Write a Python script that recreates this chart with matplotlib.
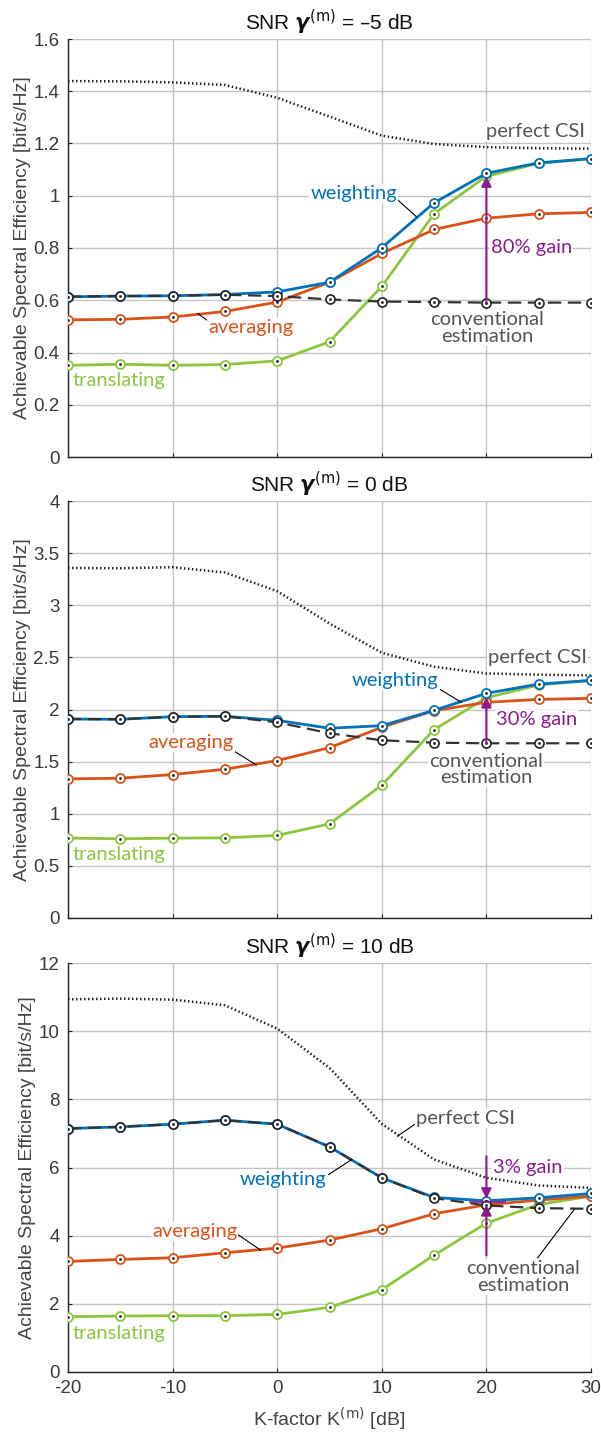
import numpy as np
import matplotlib
matplotlib.use('Agg')
import matplotlib.pyplot as plt

# K-factor [dB]
k_db = [-20, -15, -10, -5, 0, 5, 10, 15, 20, 25, 30]

# SNR = -5 dB
w_m5 = [0.613, 0.616, 0.617, 0.622, 0.632, 0.669, 0.801, 0.973, 1.086, 1.126, 1.142]
a_m5 = [0.525, 0.527, 0.536, 0.557, 0.593, 0.669, 0.779, 0.871, 0.914, 0.931, 0.936]
t_m5 = [0.351, 0.355, 0.351, 0.354, 0.368, 0.441, 0.653, 0.931, 1.075, 1.124, 1.142]
c_m5 = [0.614, 0.616, 0.617, 0.621, 0.616, 0.603, 0.595, 0.593, 0.591, 0.591, 0.591]
p_m5 = [1.439, 1.438, 1.434, 1.424, 1.375, 1.303, 1.230, 1.198, 1.186, 1.182, 1.180]

# SNR = 0 dB
w_0 = [1.909, 1.906, 1.931, 1.935, 1.896, 1.820, 1.845, 1.992, 2.155, 2.244, 2.279]
a_0 = [1.334, 1.341, 1.376, 1.427, 1.510, 1.634, 1.829, 1.989, 2.069, 2.097, 2.107]
t_0 = [0.766, 0.760, 0.766, 0.769, 0.792, 0.903, 1.274, 1.807, 2.113, 2.235, 2.279]
c_0 = [1.909, 1.906, 1.931, 1.935, 1.877, 1.772, 1.705, 1.682, 1.676, 1.676, 1.676]
p_0 = [3.358, 3.355, 3.365, 3.314, 3.135, 2.825, 2.544, 2.410, 2.346, 2.334, 2.327]

# SNR = 10 dB
w_10 = [7.144, 7.192, 7.271, 7.388, 7.271, 6.606, 5.697, 5.121, 5.023, 5.111, 5.238]
a_10 = [3.244, 3.303, 3.352, 3.498, 3.635, 3.870, 4.202, 4.642, 4.906, 5.043, 5.160]
t_10 = [1.622, 1.642, 1.652, 1.652, 1.691, 1.896, 2.414, 3.430, 4.368, 4.915, 5.160]
c_10 = [7.144, 7.192, 7.271, 7.388, 7.271, 6.606, 5.697, 5.101, 4.886, 4.808, 4.788]
p_10 = [10.935, 10.955, 10.925, 10.760, 10.075, 8.922, 7.280, 6.235, 5.697, 5.472, 5.404]

snr_titles = ['\u20135', '0', '10']
gains = ['80% gain', '30% gain', '3% gain']

BLUE = '#0072BD'
ORANGE = '#D95319'
GREEN = '#8CC63F'
PURPLE = '#8B1C8B'
GRAYTXT = '#555555'
ANN_FONT = ['Lato', 'DejaVu Sans']
AX_FONT = ['Liberation Sans', 'DejaVu Sans']

plt.rcParams['mathtext.fontset'] = 'dejavusans'
plt.rcParams['axes.unicode_minus'] = False

fig = plt.figure(figsize=(6.01, 14.37), dpi=100)
left, width = 68 / 601, (591 - 68) / 601
H = 1437
boxes = [(39, 457), (501, 918), (963, 1372)]


def series(ax, y, color, z, ls='-', lw=2.0):
    ax.plot(k_db, y, ls, color=color, lw=lw, marker='o', ms=6.5, mfc='white',
            mec=color, mew=1.3, zorder=z)
    ax.plot(k_db, y, ls='none', marker='.', ms=2, color='#222222', zorder=z + 0.1)


def label(ax, x, y, s, color, ha='center', va='center'):
    ax.text(x, y, s, color=color, fontsize=14.5, family=ANN_FONT, ha=ha, va=va,
            linespacing=0.95, zorder=8,
            bbox=dict(boxstyle='square,pad=0.05', fc='white', ec='none'))


def leader(ax, x0, y0, x1, y1):
    ax.plot([x0, x1], [y0, y1], color='black', lw=0.8, zorder=7)


axes = []
for i, (top, bot) in enumerate(boxes):
    ax = fig.add_axes([left, 1 - bot / H, width, (bot - top) / H])
    axes.append(ax)
    ax.set_xlim(-20, 30)
    ax.set_xticks([-20, -10, 0, 10, 20, 30])
    ax.grid(True, color='#c4c4c4', lw=1.0, zorder=0)
    ax.set_axisbelow(True)
    for s in ['top', 'right']:
        ax.spines[s].set_visible(False)
    for s in ['left', 'bottom']:
        ax.spines[s].set_color('#222222')
        ax.spines[s].set_linewidth(1.0)
    ax.tick_params(direction='in', length=3, labelsize=13.5, colors='#222222',
                   labelcolor='#3a3a3a', pad=6)
    for lab in ax.get_xticklabels() + ax.get_yticklabels():
        lab.set_family(AX_FONT)
    ax.set_ylabel('Achievable Spectral Efficiency [bit/s/Hz]', fontsize=14,
                  color='#444444', family=AX_FONT, labelpad=2)
    ax.set_title('SNR $\\boldsymbol{\\gamma}^{(\\mathrm{m})}$ = ' + snr_titles[i] + ' dB',
                 fontsize=15, family=AX_FONT, color='#111111', pad=6)
    if i < 2:
        ax.tick_params(labelbottom=False)

data = [(w_m5, a_m5, t_m5, c_m5, p_m5), (w_0, a_0, t_0, c_0, p_0),
        (w_10, a_10, t_10, c_10, p_10)]
for ax, (w, a, t, c, p) in zip(axes, data):
    series(ax, t, GREEN, 3)
    series(ax, a, ORANGE, 4)
    series(ax, w, BLUE, 5)
    ax.plot(k_db, c, color='#333333', lw=1.6, dashes=(6, 3), marker='o', ms=6.5,
            mfc='white', mec='#222222', mew=1.2, zorder=6)
    ax.plot(k_db, c, ls='none', marker='.', ms=2, color='#222222', zorder=6.1)
    ax.plot(k_db, p, color='#222222', lw=1.8, ls=(0, (0.6, 1.0)), zorder=2)

# top panel
ax = axes[0]
ax.set_ylim(0, 1.6)
ax.set_yticks(np.arange(0, 1.61, 0.2))
ax.set_yticklabels(['0', '0.2', '0.4', '0.6', '0.8', '1', '1.2', '1.4', '1.6'])
label(ax, 24.7, 1.245, 'perfect CSI', GRAYTXT)
label(ax, 7.3, 1.01, 'weighting', BLUE)
leader(ax, 11.5, 0.985, 13.3, 0.92)
label(ax, -2.5, 0.494, 'averaging', ORANGE)
leader(ax, -7.6, 0.549, -6.4, 0.515)
label(ax, -15.1, 0.294, 'translating', GREEN)
label(ax, 20.1, 0.494, 'conventional\nestimation', GRAYTXT)
label(ax, 24.3, 0.802, gains[0], PURPLE)
ax.annotate('', xy=(20, 1.075), xytext=(20, 0.591), zorder=9,
            arrowprops=dict(arrowstyle='-|>', color=PURPLE, lw=1.5,
                            mutation_scale=15, shrinkA=0, shrinkB=0))

# middle panel
ax = axes[1]
ax.set_ylim(0, 4)
ax.set_yticks(np.arange(0, 4.01, 0.5))
ax.set_yticklabels(['0', '0.5', '1', '1.5', '2', '2.5', '3', '3.5', '4'])
label(ax, 24.9, 2.50, 'perfect CSI', GRAYTXT)
label(ax, 11.3, 2.276, 'weighting', BLUE)
leader(ax, 15.4, 2.203, 17.6, 2.069)
label(ax, -8.2, 1.682, 'averaging', ORANGE)
leader(ax, -4.3, 1.612, -2.0, 1.468)
label(ax, -15.1, 0.613, 'translating', GREEN)
label(ax, 20.0, 1.427, 'conventional\nestimation', GRAYTXT)
label(ax, 24.8, 1.90, gains[1], PURPLE)
ax.annotate('', xy=(20, 2.12), xytext=(20, 1.676), zorder=9,
            arrowprops=dict(arrowstyle='-|>', color=PURPLE, lw=1.5,
                            mutation_scale=15, shrinkA=0, shrinkB=0))

# bottom panel
ax = axes[2]
ax.set_ylim(0, 12)
ax.set_yticks(np.arange(0, 12.1, 2))
ax.set_xlabel('K-factor K$^{(\\mathrm{m})}$ [dB]', fontsize=14, color='#444444',
              family=AX_FONT, labelpad=6)
label(ax, 18.0, 7.43, 'perfect CSI', GRAYTXT)
leader(ax, 13.6, 7.36, 11.5, 6.92)
label(ax, 0.6, 5.65, 'weighting', BLUE)
leader(ax, 4.9, 5.79, 7.1, 6.23)
label(ax, -7.9, 4.13, 'averaging', ORANGE)
leader(ax, -3.8, 4.04, -1.6, 3.58)
label(ax, -15.1, 1.12, 'translating', GREEN)
label(ax, 23.5, 2.79, 'conventional\nestimation', GRAYTXT)
leader(ax, 24.9, 3.35, 28.4, 4.77)
label(ax, 24.0, 6.01, gains[2], PURPLE)
ax.annotate('', xy=(20, 5.08), xytext=(20, 6.33), zorder=9,
            arrowprops=dict(arrowstyle='-|>', color=PURPLE, lw=1.5,
                            mutation_scale=15, shrinkA=0, shrinkB=0))
ax.annotate('', xy=(20, 4.90), xytext=(20, 3.42), zorder=9,
            arrowprops=dict(arrowstyle='-|>', color=PURPLE, lw=1.5,
                            mutation_scale=15, shrinkA=0, shrinkB=0))
ax.plot([18.4, 21.8], [4.98, 4.98], color=PURPLE, lw=1.2, zorder=9)

fig.savefig('out.png', dpi=100)
